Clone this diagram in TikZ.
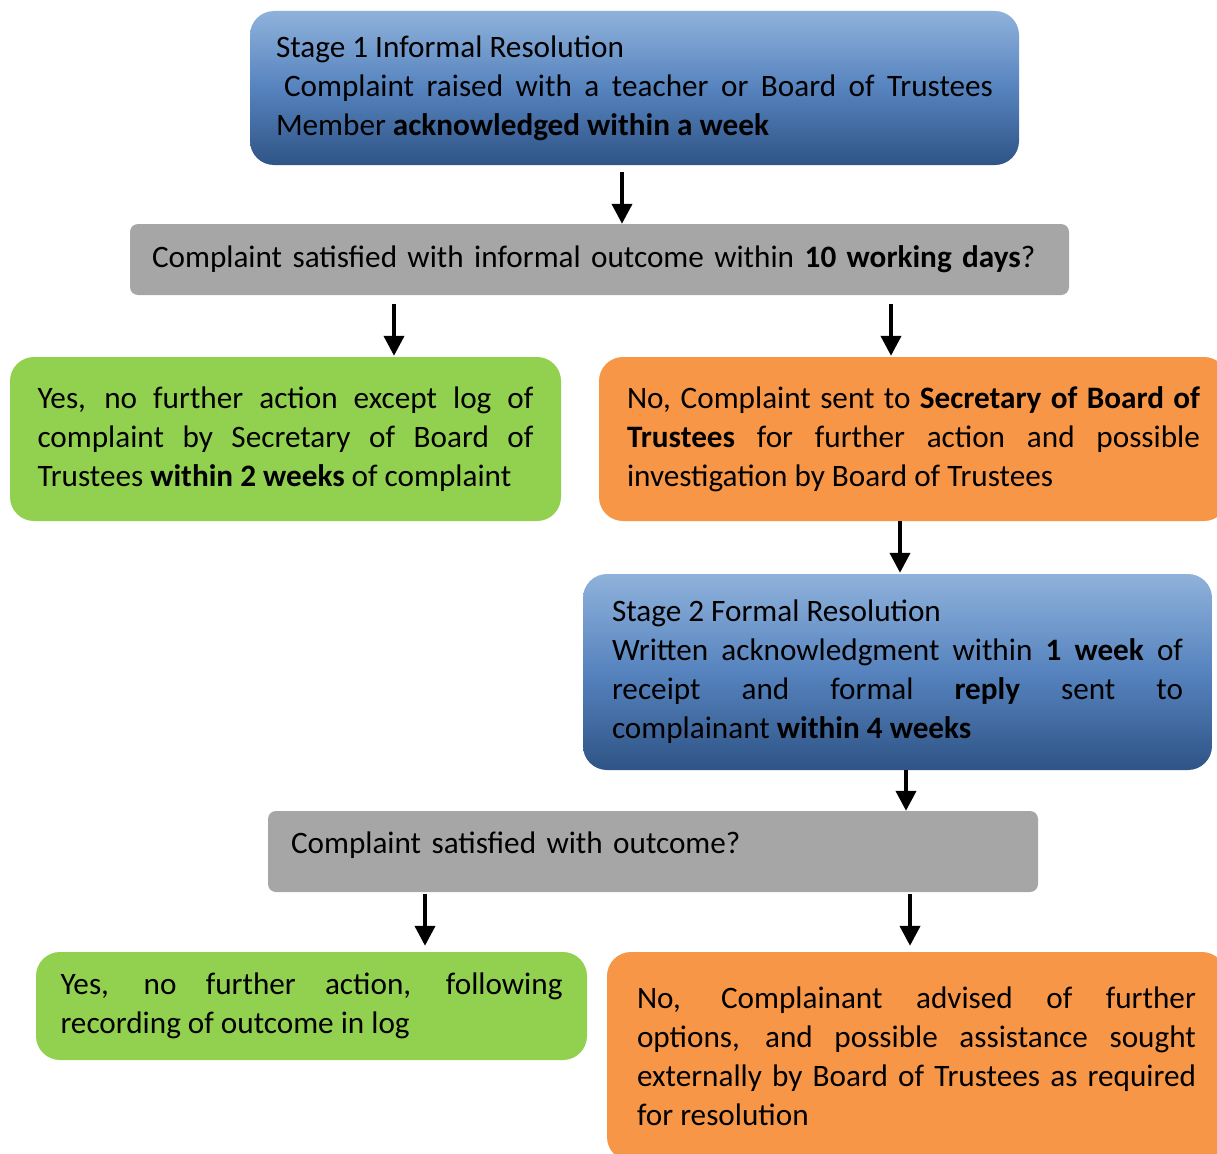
\documentclass[tikz,border=0pt]{standalone}
\usepackage{fontspec}
\setmainfont{Carlito}
\usetikzlibrary{arrows.meta}
\definecolor{stagetop}{RGB}{143,178,219}
\definecolor{stagemid}{RGB}{86,131,190}
\definecolor{stagebot}{RGB}{47,84,134}
\definecolor{yesgreen}{RGB}{146,208,80}
\definecolor{noorange}{RGB}{247,150,70}
\definecolor{askgray}{RGB}{166,166,166}

\begin{document}
\begin{tikzpicture}[
    x=1pt, y=-1pt,
    box/.style={rounded corners=24pt, inner sep=0pt, align=justify, font=\fontsize{31.2}{39}\selectfont},
    stage/.style={box, top color=stagetop, bottom color=stagebot, middle color=stagemid},
    yes/.style={box, fill=yesgreen},
    no/.style={box, fill=noorange},
    ask/.style={box, rounded corners=8pt, fill=askgray, align=left},
    flow/.style={-{Triangle[width=20pt,length=20pt]}, line width=4pt}
]
    \useasboundingbox (0,0) rectangle (1217,1153);
    \clip (0,0) rectangle (1217,1153);

    % Stage 1
    \node[stage, minimum width=769pt, minimum height=154pt, text width=717pt] (stageone) at (634.5,88)
        {Stage 1 Informal Resolution\\\hspace*{8pt}Complaint raised with a teacher or Board of Trustees\linebreak Member \textbf{acknowledged within a week}};
    \node[ask, minimum width=939pt, minimum height=71pt, text width=895pt] (qone) at (599.5,259.5)
        {Complaint satisfied with informal outcome within \textbf{10 working days}?};
    \node[yes, minimum width=551pt, minimum height=164pt, text width=496pt] (yesone) at (285.5,439)
        {Yes, no further action except log of\linebreak complaint by Secretary of Board of\linebreak Trustees \textbf{within 2 weeks} of complaint};
    \node[no, minimum width=629pt, minimum height=164pt, text width=573pt] (noone) at (913.5,439)
        {No, Complaint sent to \textbf{Secretary of Board of}\linebreak \textbf{Trustees} for further action and possible\linebreak investigation by Board of Trustees};

    % Stage 2
    \node[stage, minimum width=629pt, minimum height=196pt, text width=571pt] (stagetwo) at (897.5,672)
        {Stage 2 Formal Resolution\\Written acknowledgment within \textbf{1 week} of\linebreak receipt and formal \textbf{reply} sent to\linebreak complainant \textbf{within 4 weeks}};
    \node[ask, minimum width=770pt, minimum height=81pt, text width=724pt, text depth=17pt] (qtwo) at (653,851.5)
        {Complaint satisfied with outcome?};
    \node[yes, minimum width=551pt, minimum height=108pt, text width=502pt] (yestwo) at (311.5,1006)
        {Yes, no further action, following\linebreak recording of outcome in log};
    \node[no, minimum width=619pt, minimum height=209pt, text width=559pt] (notwo) at (916.5,1056.5)
        {No, Complainant advised of further\linebreak options, and possible assistance sought\linebreak externally by Board of Trustees as required\linebreak for resolution};

    % Arrows
    \draw[flow] ([xshift=-12.5pt,yshift=-7pt]stageone.south) -- ([xshift=22.5pt]qone.north);
    \draw[flow] ([xshift=-205.5pt,yshift=-9pt]qone.south) -- ([xshift=108.5pt,yshift=1pt]yesone.north);
    \draw[flow] ([xshift=291.5pt,yshift=-9pt]qone.south) -- ([xshift=-22.5pt,yshift=1pt]noone.north);
    \draw[flow] ([xshift=-13.5pt]noone.south) -- ([xshift=2.5pt,yshift=1pt]stagetwo.north);
    \draw[flow] ([xshift=8.5pt]stagetwo.south) -- ([xshift=253pt]qtwo.north);
    \draw[flow] ([xshift=-228pt,yshift=-2pt]qtwo.south) -- ([xshift=113.5pt,yshift=6pt]yestwo.north);
    \draw[flow] ([xshift=257pt,yshift=-2pt]qtwo.south) -- ([xshift=-6.5pt,yshift=6pt]notwo.north);
\end{tikzpicture}
\end{document}
